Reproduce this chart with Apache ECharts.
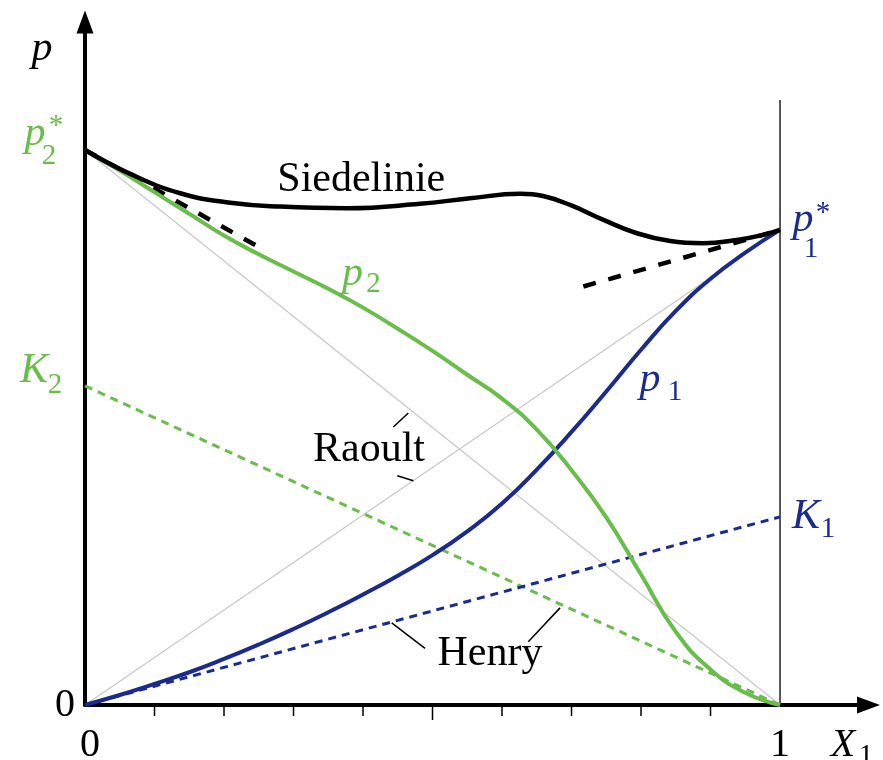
<!DOCTYPE html>
<html>
<head>
<meta charset="utf-8">
<script src="https://cdn.jsdelivr.net/npm/echarts@6/dist/echarts.min.js"></script>
<style>
html, body { margin: 0; padding: 0; background: #fff; }
#chart { width: 883px; height: 760px; }
.preload { position: absolute; left: -9999px; top: 0; font-family: 'Liberation Serif'; font-size: 42px; }
</style>
</head>
<body>
<span class="preload">Siedelinie 01</span>
<span class="preload" style="font-style: italic">pKX</span>
<div id="chart"></div>
<script>
// mole fraction grid for the two partial pressure curves
const xGrid = [0, 0.05, 0.1, 0.15, 0.2, 0.25, 0.3, 0.35, 0.4, 0.45, 0.5, 0.55, 0.6, 0.65, 0.7, 0.75, 0.8, 0.85, 0.9, 0.95, 1]
const p1Vals = [0, 1.8, 3.8, 5.9, 8.3, 10.9, 13.7, 16.7, 19.9, 23.3, 27.0, 31.3, 36.3, 42.4, 49.2, 56.5, 64.0, 71.0, 76.8, 81.5, 85.6]
const p2Vals = [100, 96.3, 92.4, 88.5, 84.6, 81.2, 78.1, 75.0, 71.6, 67.8, 63.8, 59.5, 55.2, 49.6, 42.3, 33.8, 23.5, 13.2, 6.4, 2.2, 0]

const siedeX = [0, 0.065, 0.137, 0.209, 0.281, 0.377, 0.482, 0.554, 0.626, 0.659, 0.698, 0.746, 0.794, 0.842, 0.889, 0.938, 0.976, 1]
const siedeVals = [100, 95.7, 92.2, 90.5, 89.8, 89.5, 90.3, 91.3, 92.1, 91.7, 90.1, 87.4, 85.0, 83.6, 83.2, 83.8, 84.7, 85.6]

const p1Star = 85.6
const p2Star = 100
const K1 = 33.9
const K2 = 57.5

// tangents at the pure components
const tangentLeft = [[0, 100], [0.259, 81.9]]
const tangentRight = [[0.717, 75.4], [1, 85.6]]

// leader lines for the Raoult / Henry labels
const raoultLeaders = [[[0.4436, 50.1], [0.4652, 52.6]], [[0.4494, 41.3], [0.4724, 40.4]]]
const henryLeaders = [[[0.4413, 14.8], [0.4892, 10.2]], [[0.6378, 11.4], [0.6835, 17.5]]]

const xTicks = [0.1, 0.2, 0.3, 0.4, 0.5, 0.6, 0.7, 0.8, 0.9]
const vLineTop = 109

const GREEN = '#6abd4b'
const BLUE = '#1b2a8f'
const SERIF = 'Liberation Serif'

const pairs = (xs, ys) => xs.map((x, i) => [x, ys[i]])

let chart = echarts.init(document.getElementById('chart'))

const leaderSeries = raoultLeaders.concat(henryLeaders).map(seg => ({
    type: 'line',
    data: seg,
    symbol: 'none',
    silent: true,
    lineStyle: { color: '#000', width: 1.5 },
    z: 3
}))

const axisCommon = {
    type: 'value',
    min: 0,
    axisLine: {
        onZero: false,
        symbol: ['none', 'triangle'],
        symbolSize: [17, 23],
        lineStyle: { color: '#000', width: 4 }
    },
    axisTick: { show: false },
    axisLabel: { show: false },
    splitLine: { show: false }
}

let option = {
    animation: false,
    grid: { left: 85, right: 14.5, top: 22, bottom: 55 },
    xAxis: Object.assign({}, axisCommon, { max: 1.1273 }),
    yAxis: Object.assign({}, axisCommon, { max: 123.06 }),
    series: [
        // Raoult lines
        { type: 'line', data: [[0, p2Star], [1, 0]], symbol: 'none', lineStyle: { color: '#c8c8c8', width: 1.2 }, z: 1 },
        { type: 'line', data: [[0, 0], [1, p1Star]], symbol: 'none', lineStyle: { color: '#c8c8c8', width: 1.2 }, z: 1 },
        // x = 1 line
        { type: 'line', data: [[1, 0], [1, vLineTop]], symbol: 'none', lineStyle: { color: '#222', width: 1.5 }, z: 1 },
        // Henry lines
        { type: 'line', data: [[0, K2], [1, 0]], symbol: 'none', lineStyle: { color: GREEN, width: 3, type: [8, 6] }, z: 2 },
        { type: 'line', data: [[0, 0], [1, K1]], symbol: 'none', lineStyle: { color: BLUE, width: 3, type: [8, 6] }, z: 2 },
        // tangents
        { type: 'line', data: tangentLeft, symbol: 'none', lineStyle: { color: '#000', width: 4.5, type: [13, 13], cap: 'butt' }, z: 2 },
        { type: 'line', data: tangentRight, symbol: 'none', lineStyle: { color: '#000', width: 4.5, type: [13, 13], cap: 'butt' }, z: 2 },
        // partial pressures
        { type: 'line', data: pairs(xGrid, p1Vals), symbol: 'none', smooth: 0.5, lineStyle: { color: BLUE, width: 4 }, z: 4 },
        { type: 'line', data: pairs(xGrid, p2Vals), symbol: 'none', smooth: 0.5, lineStyle: { color: GREEN, width: 4 }, z: 4 },
        // Siedelinie
        { type: 'line', data: pairs(siedeX, siedeVals), symbol: 'none', smooth: 0.45, lineStyle: { color: '#000', width: 4.5 }, z: 5 },
        // x-axis ticks
        {
            type: 'custom',
            data: xTicks.map(v => [v, 0]),
            silent: true,
            z: 6,
            renderItem: function(params, api) {
                let p = api.coord([api.value(0), 0])
                let len = Math.abs(api.value(0) - 0.5) < 1e-6 ? 15 : 11
                return {
                    type: 'line',
                    shape: { x1: p[0], y1: p[1], x2: p[0], y2: p[1] + len },
                    style: { stroke: '#000', lineWidth: 1.5 }
                }
            }
        }
    ].concat(leaderSeries)
}

chart.setOption(option)

// text labels, placed relative to the data anchors
function txt(anchor, dx, dy, text, size, color, italic) {
    let p = chart.convertToPixel({ gridIndex: 0 }, anchor)
    return {
        type: 'text',
        x: p[0] + dx,
        y: p[1] + dy,
        silent: true,
        z: 100,
        style: {
            text: text,
            fill: color,
            fontFamily: SERIF,
            fontSize: size,
            fontStyle: italic ? 'italic' : 'normal',
            align: 'center',
            verticalAlign: 'middle'
        }
    }
}

const BIG = 42
const SUB = 29

function drawLabels() {
    chart.setOption({
        graphic: [
            // axis labels
            txt([0, 0], 5, 40, '0', 40, '#000'),
            txt([1, 0], 0, 40, '1', 40, '#000'),
            txt([1, 0], 63, 40, 'X', 40, '#000', true),
            txt([1, 0], 86, 51, '1', SUB, '#000'),
            txt([0, 0], -20, 0, '0', 40, '#000'),
            txt([0, 123.06], -43, 27, 'p', BIG, '#000', true),
            // p2*
            txt([0, p2Star], -50, -16, 'p', BIG, GREEN, true),
            txt([0, p2Star], -29, -24, '*', SUB, GREEN),
            txt([0, p2Star], -36, 6, '2', SUB, GREEN),
            // K2
            txt([0, K2], -51, -15, 'K', BIG, GREEN, true),
            txt([0, K2], -30, 0, '2', SUB, GREEN),
            // p1*
            txt([1, p1Star], 23, -10, 'p', BIG, BLUE, true),
            txt([1, p1Star], 43, -17, '*', SUB, BLUE),
            txt([1, p1Star], 31, 19, '1', SUB, BLUE),
            // K1
            txt([1, K1], 26, 0, 'K', BIG, BLUE, true),
            txt([1, K1], 48, 13, '1', SUB, BLUE),
            // curve names
            txt([0.385, 0], 0, -431, 'p', BIG, GREEN, true),
            txt([0.385, 0], 21, -421, '2', SUB, GREEN),
            txt([0.8129, 0], 0, -325, 'p', BIG, BLUE, true),
            txt([0.8129, 0], 25, -313, '1', SUB, BLUE),
            txt([0.3975, 0], 0, -525, 'Siedelinie', BIG, '#000'),
            txt([0.4086, 0], 0, -255, 'Raoult', BIG, '#000'),
            txt([0.5827, 0], 0, -51, 'Henry', BIG, '#000')
        ]
    })
}

drawLabels()
// redraw once the serif font is actually available to the canvas
if (document.fonts && document.fonts.load) {
    Promise.all([
        document.fonts.load('42px "Liberation Serif"'),
        document.fonts.load('italic 42px "Liberation Serif"')
    ]).then(function() {
        chart.setOption({ graphic: [] }, { replaceMerge: ['graphic'] })
        drawLabels()
    })
}

window.onresize = function() {
    chart.resize()
}
</script>
</body>
</html>
